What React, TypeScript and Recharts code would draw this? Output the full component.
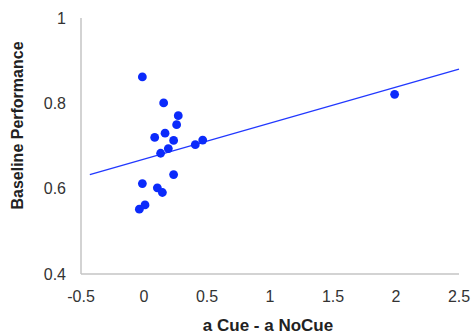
import { ScatterChart, Scatter, XAxis, YAxis } from 'recharts';

// Points
const cueDiff = [
  -0.013, 0.156, 0.272, 0.259, 0.085, 0.167, 0.235, 0.193, 0.132,
  0.407, 0.466, 0.235, -0.013, 0.106, 0.146, -0.037, 0.008, 1.989,
];
const baseline = [
  0.862, 0.801, 0.771, 0.75, 0.72, 0.73, 0.713, 0.694, 0.683,
  0.703, 0.714, 0.633, 0.612, 0.602, 0.591, 0.552, 0.562, 0.821,
];

// Linear trend line end points
const trendX = [-0.43, 2.5];
const trendY = [0.633, 0.88];

const xTicks = [-0.5, 0, 0.5, 1, 1.5, 2, 2.5];
const yTicks = [0.4, 0.6, 0.8, 1];

const points = cueDiff.map((x, i) => ({ x, y: baseline[i] }));
const trend = trendX.map((x, i) => ({ x, y: trendY[i] }));

const tickStyle = {
  fontSize: 16,
  fill: '#333',
  fontFamily: 'Liberation Sans, Arial, sans-serif',
};

export default function App() {
  return (
    <div style={{ position: 'absolute', left: 0, top: 0, background: '#fff' }}>
      <ScatterChart
        width={473}
        height={336}
        margin={{ top: 18, right: 14, left: 0, bottom: 0 }}
      >
        <XAxis
          type="number"
          dataKey="x"
          domain={[-0.5, 2.5]}
          ticks={xTicks}
          tickFormatter={(v) => String(v)}
          axisLine={{ stroke: '#c4c4c4', strokeWidth: 1.5 }}
          tickLine={false}
          tick={tickStyle}
          tickMargin={11}
          height={62}
          label={() => (
            <text
              x={268}
              y={325}
              textAnchor="middle"
              dominantBaseline="central"
              style={{
                fontSize: 17,
                fontWeight: 700,
                fill: '#222',
                fontFamily: 'Liberation Sans, Arial, sans-serif',
              }}
            >
              a Cue - a NoCue
            </text>
          )}
        />
        <YAxis
          type="number"
          dataKey="y"
          domain={[0.4, 1]}
          ticks={yTicks}
          tickFormatter={(v) => String(v)}
          axisLine={{ stroke: '#c4c4c4', strokeWidth: 1.5 }}
          tickLine={false}
          tick={tickStyle}
          tickMargin={9}
          width={81}
          label={() => (
            <text
              transform="translate(17,125.5) rotate(-90)"
              textAnchor="middle"
              dominantBaseline="central"
              style={{
                fontSize: 16,
                fontWeight: 700,
                fill: '#222',
                fontFamily: 'Liberation Sans, Arial, sans-serif',
              }}
            >
              Baseline Performance
            </text>
          )}
        />
        <Scatter
          data={trend}
          line={{ stroke: '#2238ff', strokeWidth: 1.2 }}
          shape={() => <g />}
          isAnimationActive={false}
        />
        <Scatter
          data={points}
          fill="#0b2afb"
          shape={(p: any) => <circle cx={p.cx} cy={p.cy} r={4.4} fill="#0b2afb" />}
          isAnimationActive={false}
        />
      </ScatterChart>
    </div>
  );
}
